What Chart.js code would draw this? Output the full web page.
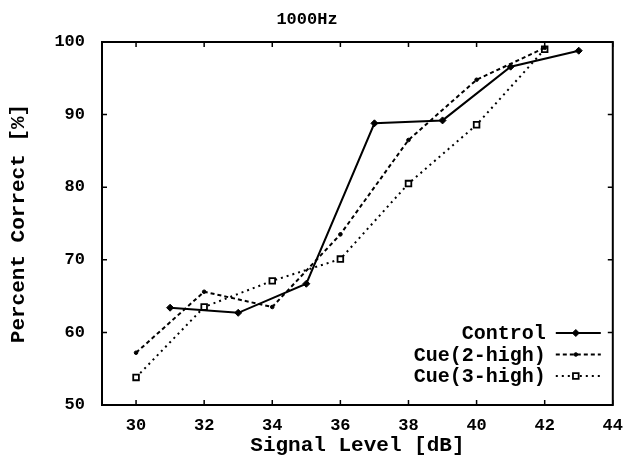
<!DOCTYPE html>
<html>
<head>
<meta charset="utf-8">
<script src="https://cdn.jsdelivr.net/npm/chart.js@4"></script>
<style>
  html, body { margin: 0; padding: 0; background: #fff; }
  #wrap { width: 634px; height: 461px; }
</style>
</head>
<body>
<div id="wrap"><canvas id="psych"></canvas></div>
<script>
// signal levels (dB) and percent correct for each condition
const controlLevels = [31, 33, 35, 37, 39, 41, 43];
const controlPct = [63.4, 62.7, 66.7, 88.8, 89.2, 96.6, 98.8];

const cueLevels = [30, 32, 34, 36, 38, 40, 42];
const cue2Pct = [57.2, 65.6, 63.5, 73.5, 86.5, 94.8, 99.2];
const cue3Pct = [53.8, 63.5, 67.1, 70.1, 80.5, 88.6, 99.0];

const xTicks = [30, 32, 34, 36, 38, 40, 42, 44];
const yTicks = [50, 60, 70, 80, 90, 100];

const FONT = "'Liberation Mono', 'DejaVu Sans Mono', monospace";

function pts(xs, ys) {
    return xs.map((x, i) => ({ x: x, y: ys[i] }));
}

// frame around the plot area with inward tick marks on all four sides
const framePlugin = {
    id: 'frame',
    afterDatasetsDraw(chart) {
        const { ctx, chartArea: a, scales } = chart;
        ctx.save();
        ctx.strokeStyle = '#000';
        ctx.lineWidth = 2;
        ctx.strokeRect(a.left, a.top, a.right - a.left, a.bottom - a.top);
        ctx.lineWidth = 1.5;
        const len = 5;
        ctx.beginPath();
        scales.x.ticks.forEach(t => {
            const px = scales.x.getPixelForValue(t.value);
            ctx.moveTo(px, a.bottom); ctx.lineTo(px, a.bottom - len);
            ctx.moveTo(px, a.top); ctx.lineTo(px, a.top + len);
        });
        scales.y.ticks.forEach(t => {
            const py = scales.y.getPixelForValue(t.value);
            ctx.moveTo(a.left, py); ctx.lineTo(a.left + len, py);
            ctx.moveTo(a.right, py); ctx.lineTo(a.right - len, py);
        });
        ctx.stroke();
        ctx.restore();
    }
};

// gnuplot style key in the lower right corner
const keyPlugin = {
    id: 'key',
    afterDraw(chart) {
        const { ctx, chartArea: a } = chart;
        const textRight = a.right - 67;
        const lineStart = a.right - 57;
        const lineEnd = a.right - 12;
        ctx.save();
        ctx.font = 'bold 20px ' + FONT;
        ctx.textAlign = 'right';
        ctx.textBaseline = 'middle';
        chart.data.datasets.forEach((ds, i) => {
            const y = a.bottom - 72 + i * 21.5;
            ctx.fillStyle = '#000';
            ctx.fillText(ds.label, textRight, y + 1);
            ctx.strokeStyle = '#000';
            ctx.lineWidth = ds.borderWidth;
            ctx.setLineDash(ds.borderDash || []);
            ctx.beginPath();
            ctx.moveTo(lineStart, y);
            ctx.lineTo(lineEnd, y);
            ctx.stroke();
            ctx.setLineDash([]);
            ctx.fillStyle = ds.pointBackgroundColor;
            ctx.lineWidth = ds.pointBorderWidth;
            Chart.helpers.drawPoint(ctx, {
                pointStyle: ds.pointStyle,
                radius: ds.pointRadius,
                borderWidth: ds.pointBorderWidth,
                rotation: 0
            }, lineStart + 20, y);
        });
        ctx.restore();
    }
};

const ctx = document.getElementById('psych').getContext('2d');
const psychChart = new Chart(ctx, {
    type: 'scatter',
    data: {
        datasets: [{
            label: 'Control',
            data: pts(controlLevels, controlPct),
            showLine: true,
            borderColor: '#000',
            borderWidth: 2,
            pointStyle: 'rectRot',
            pointRadius: 3.5,
            pointBackgroundColor: '#000',
            pointBorderColor: '#000',
            pointBorderWidth: 1
        }, {
            label: 'Cue(2-high)',
            data: pts(cueLevels, cue2Pct),
            showLine: true,
            borderColor: '#000',
            borderWidth: 2,
            borderDash: [4, 3],
            pointStyle: 'circle',
            pointRadius: 1.8,
            pointBackgroundColor: '#000',
            pointBorderColor: '#000',
            pointBorderWidth: 1
        }, {
            label: 'Cue(3-high)',
            data: pts(cueLevels, cue3Pct),
            showLine: true,
            borderColor: '#000',
            borderWidth: 2,
            borderDash: [2, 4],
            pointStyle: 'rect',
            pointRadius: 4,
            pointBackgroundColor: '#fff',
            pointBorderColor: '#000',
            pointBorderWidth: 1.8
        }]
    },
    options: {
        responsive: true,
        maintainAspectRatio: false,
        animation: false,
        layout: { padding: { top: 0, right: 20, bottom: 0, left: 0 } },
        plugins: {
            legend: { display: false },
            tooltip: { enabled: false },
            title: {
                display: true,
                text: '1000Hz',
                color: '#000',
                font: { family: FONT, size: 17, weight: 'bold', lineHeight: 1.2 },
                padding: { top: 9.8, bottom: 11.8 },
                align: 'center'
            }
        },
        scales: {
            x: {
                type: 'linear',
                min: 29,
                max: 44,
                afterBuildTicks: s => { s.ticks = xTicks.map(v => ({ value: v })); },
                afterFit: s => { s.height = 56; },
                grid: { display: false, drawTicks: false },
                border: { display: false },
                ticks: {
                    color: '#000',
                    padding: 11,
                    maxRotation: 0,
                    font: { family: FONT, size: 17, weight: 'bold' }
                },
                title: {
                    display: true,
                    text: 'Signal Level [dB]',
                    color: '#000',
                    font: { family: FONT, size: 21, weight: 'bold', lineHeight: 1.2 },
                    padding: { top: 0, bottom: 3 }
                }
            },
            y: {
                min: 50,
                max: 100,
                afterBuildTicks: s => { s.ticks = yTicks.map(v => ({ value: v })); },
                afterFit: s => { s.width = 102; },
                grid: { display: false, drawTicks: false },
                border: { display: false },
                ticks: {
                    color: '#000',
                    padding: 17,
                    font: { family: FONT, size: 17, weight: 'bold' }
                },
                title: {
                    display: true,
                    text: 'Percent Correct [%]',
                    color: '#000',
                    font: { family: FONT, size: 21, weight: 'bold', lineHeight: 1.2 },
                    padding: { top: 6, bottom: 0 }
                }
            }
        }
    },
    plugins: [framePlugin, keyPlugin]
});
</script>
</body>
</html>
